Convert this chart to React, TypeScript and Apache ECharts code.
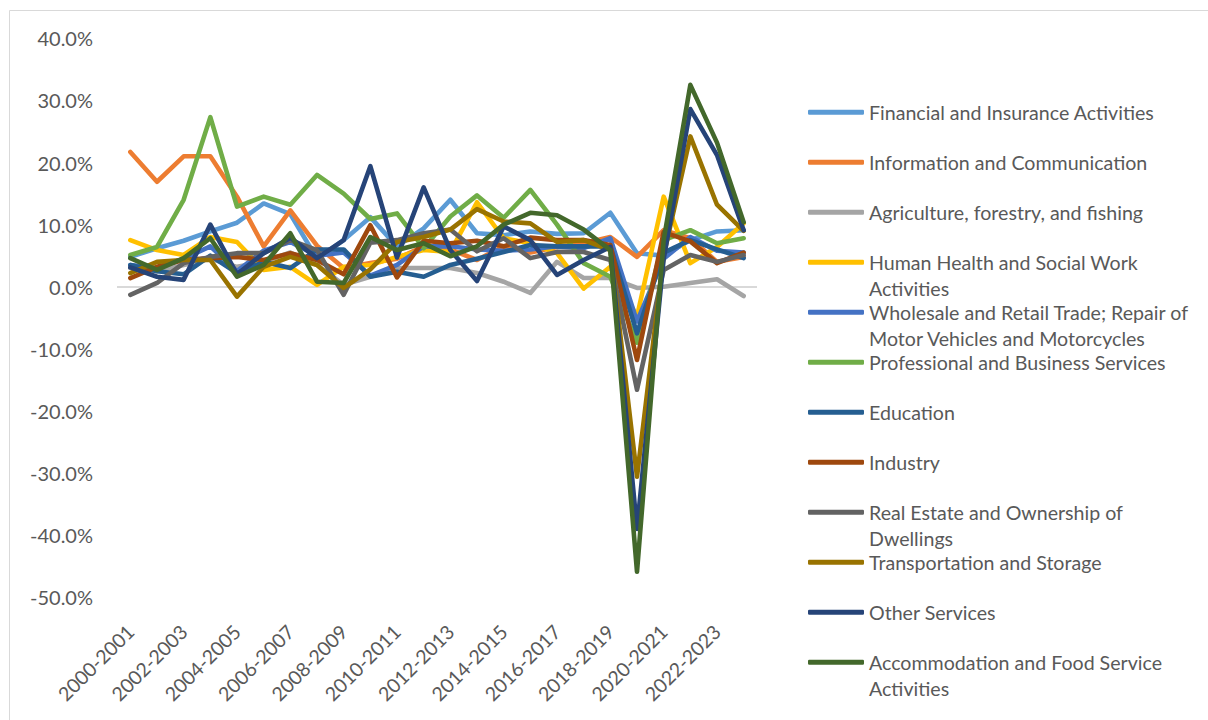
import React, { useEffect, useRef } from "react";
import * as echarts from "echarts";

const categories = [
  "2000-2001", "2001-2002", "2002-2003", "2003-2004", "2004-2005", "2005-2006",
  "2006-2007", "2007-2008", "2008-2009", "2009-2010", "2010-2011", "2011-2012",
  "2012-2013", "2013-2014", "2014-2015", "2015-2016", "2016-2017", "2017-2018",
  "2018-2019", "2019-2020", "2020-2021", "2021-2022", "2022-2023", "2023-2024",
];

const financial = [4.8, 6.2, 7.4, 8.9, 10.3, 13.4, 11.7, 4.5, 7.5, 11.2, 6.5, 9.4, 14.0, 8.6, 8.3, 8.9, 8.5, 8.6, 11.9, 5.4, 5.0, 7.5, 8.9, 9.1];
const information = [21.7, 16.9, 21.0, 21.0, 14.5, 6.5, 12.3, 6.6, 3.0, 3.8, 4.5, 6.5, 6.0, 4.3, 6.5, 5.5, 6.4, 7.0, 8.0, 4.8, 9.1, 7.8, 4.0, 4.8];
const agriculture = [3.0, 2.5, 3.5, 4.5, 3.2, 4.0, 5.5, 3.5, 0.3, 1.6, 3.0, 3.0, 3.0, 2.2, 0.8, -1.0, 4.0, 1.4, 1.4, -0.2, 0.0, 0.6, 1.2, -1.5];
const humanHealth = [7.5, 5.9, 5.1, 8.0, 7.2, 2.7, 3.2, 0.3, 3.2, 3.5, 4.8, 5.9, 5.6, 13.6, 7.8, 7.0, 5.4, -0.3, 3.2, -4.8, 14.5, 3.8, 6.4, 10.2];
const wholesale = [3.5, 3.0, 4.5, 6.5, 2.5, 5.8, 7.2, 5.0, 5.5, 1.8, 3.5, 6.5, 6.5, 6.0, 5.8, 6.0, 6.5, 6.2, 7.8, -5.6, 4.5, 8.0, 5.8, 5.5];
const professional = [5.1, 6.4, 14.0, 27.3, 12.9, 14.5, 13.2, 18.0, 15.0, 10.9, 11.8, 6.2, 11.3, 14.7, 11.1, 15.6, 10.0, 3.8, 1.6, -9.0, 7.5, 9.1, 7.0, 7.8];
const education = [3.5, 2.5, 2.0, 5.0, 2.2, 4.0, 3.0, 6.0, 6.0, 1.6, 2.4, 1.6, 3.5, 4.5, 5.6, 6.7, 6.5, 6.5, 6.5, -7.5, 5.5, 7.5, 6.0, 4.6];
const industry = [1.4, 3.2, 4.3, 4.6, 4.8, 4.3, 5.4, 4.3, 2.0, 9.9, 1.5, 7.4, 7.0, 7.4, 6.5, 7.9, 7.5, 7.5, 6.7, -11.8, 8.8, 7.3, 3.8, 5.5];
const realEstate = [-1.3, 0.6, 3.8, 4.8, 5.4, 5.4, 7.5, 5.9, -1.3, 7.1, 7.5, 8.6, 9.2, 5.7, 7.8, 4.6, 5.6, 5.6, 4.3, -16.6, 2.7, 5.1, 4.0, 5.1];
const transportation = [2.2, 4.0, 4.3, 4.3, -1.6, 3.2, 4.8, 3.5, -0.2, 2.8, 7.2, 8.0, 9.2, 12.5, 10.5, 10.2, 7.2, 7.5, 5.9, -30.6, 5.0, 24.2, 13.2, 9.0];
const otherServices = [3.1, 1.6, 1.1, 10.0, 2.0, 5.4, 7.9, 4.6, 7.5, 19.4, 4.7, 16.0, 5.9, 0.9, 9.7, 7.5, 1.9, 4.3, 6.4, -39.0, 4.5, 28.6, 21.2, 9.1];
const accommodation = [4.6, 2.7, 4.6, 7.8, 1.6, 3.5, 8.6, 0.8, 0.6, 8.0, 5.9, 7.0, 4.9, 6.5, 10.0, 11.9, 11.5, 9.2, 5.9, -45.9, 7.5, 32.5, 23.2, 10.4];

const seriesNames = [
  "Financial and Insurance Activities",
  "Information and Communication",
  "Agriculture, forestry, and fishing",
  "Human Health and Social Work Activities",
  "Wholesale and Retail Trade; Repair of Motor Vehicles and Motorcycles",
  "Professional and Business Services",
  "Education",
  "Industry",
  "Real Estate and Ownership of Dwellings",
  "Transportation and Storage",
  "Other Services",
  "Accommodation and Food Service Activities",
];

const seriesValues = [
  financial, information, agriculture, humanHealth, wholesale, professional,
  education, industry, realEstate, transportation, otherServices, accommodation,
];

const seriesColors = [
  "#5B9BD5", "#ED7D31", "#A5A5A5", "#FFC000", "#4472C4", "#70AD47",
  "#255E91", "#9E480E", "#636363", "#997300", "#264478", "#43682B",
];

// legend label line breaks (as wrapped in the reference)
const legendLines: Record<string, string[]> = {
  "Human Health and Social Work Activities": ["Human Health and Social Work", "Activities"],
  "Wholesale and Retail Trade; Repair of Motor Vehicles and Motorcycles": ["Wholesale and Retail Trade; Repair of", "Motor Vehicles and Motorcycles"],
  "Real Estate and Ownership of Dwellings": ["Real Estate and Ownership of", "Dwellings"],
  "Accommodation and Food Service Activities": ["Accommodation and Food Service", "Activities"],
};

const Y_MIN = -50;
const Y_MAX = 40;
const Y_STEP = 10;

const FONT = "Lato";
const TEXT_COLOR = "#595959";

export default function App() {
  const ref = useRef<HTMLDivElement>(null);

  useEffect(() => {
    document.body.style.margin = "0";
    const chart = echarts.init(ref.current!, null, { renderer: "svg" });

    const series: any[] = seriesNames.map((name, i) => ({
      name,
      type: "line",
      data: seriesValues[i],
      symbol: "none",
      showSymbol: false,
      lineStyle: { width: 4.6, color: seriesColors[i], cap: "round", join: "round" },
      itemStyle: { color: seriesColors[i] },
      emphasis: { disabled: true },
      z: 2,
    }));
    series[0].markLine = {
      silent: true,
      symbol: "none",
      z: 1,
      label: { show: false },
      lineStyle: { color: "#D9D9D9", width: 2, type: "solid" },
      data: [{ yAxis: 0 }],
    };

    chart.setOption({
      animation: false,
      backgroundColor: "#FFFFFF",
      textStyle: { fontFamily: FONT },
      grid: { left: 117, right: 451, top: 38.3, bottom: 122.8, containLabel: false },
      xAxis: {
        type: "category",
        data: categories,
        boundaryGap: true,
        axisLine: { show: false },
        axisTick: { show: false },
        axisLabel: {
          interval: 1,
          rotate: 45,
          margin: 31,
          fontSize: 19.5,
          color: TEXT_COLOR,
          fontFamily: FONT,
        },
      },
      yAxis: {
        type: "value",
        min: Y_MIN,
        max: Y_MAX,
        interval: Y_STEP,
        axisLine: { show: false },
        axisTick: { show: false },
        splitLine: { show: false },
        axisLabel: {
          formatter: (v: number) => v.toFixed(1) + "%",
          fontSize: 20,
          color: TEXT_COLOR,
          fontFamily: FONT,
          margin: 24,
        },
      },
      legend: {
        orient: "vertical",
        left: 808,
        top: 73.3,
        padding: 0,
        itemGap: -28,
        itemWidth: 56,
        itemHeight: 5,
        icon: "roundRect",
        selectedMode: false,
        data: seriesNames,
        formatter: (name: string) => {
          const lines = legendLines[name] || [name];
          return "\n" + lines.join("\n") + (lines.length === 1 ? "\n " : "");
        },
        textStyle: { fontFamily: FONT, fontSize: 19.6, color: TEXT_COLOR, lineHeight: 26 },
      },
      graphic: [
        {
          type: "rect",
          silent: true,
          shape: { x: 9.5, y: 10.5, width: 1210, height: 720 },
          style: { fill: "none", stroke: "#D9D9D9", lineWidth: 1 },
          z: -1,
        },
      ],
      series,
    });

    return () => chart.dispose();
  }, []);

  return <div ref={ref} style={{ width: 1208, height: 720 }} />;
}
